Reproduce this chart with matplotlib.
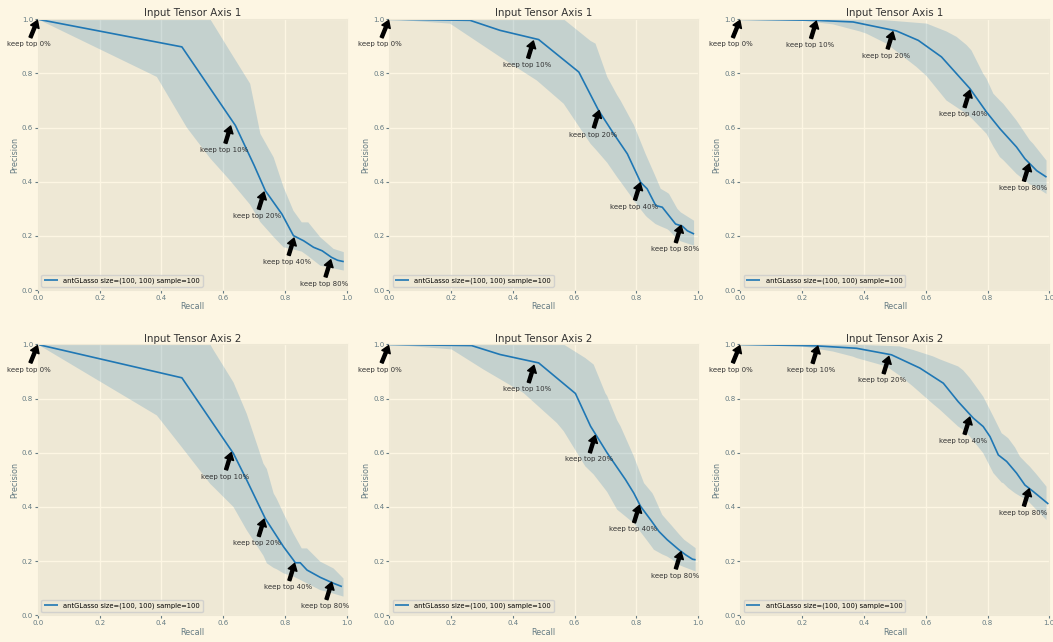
import matplotlib
matplotlib.use("Agg")
import matplotlib.pyplot as plt

plt.style.use("Solarize_Light2")

keep_labels = ["keep top 0%", "keep top 10%", "keep top 20%", "keep top 40%", "keep top 80%"]
legend_label = "antGLasso size=(100, 100) sample=100"
titles = ["Input Tensor Axis 1", "Input Tensor Axis 2"]

# ---- column 1, axis 1
a1_recall = [0, 0.466, 0.639, 0.70, 0.736, 0.79, 0.827, 0.86, 0.892, 0.92, 0.95, 0.97, 0.99]
a1_prec = [1.0, 0.898, 0.608, 0.46, 0.367, 0.28, 0.201, 0.182, 0.158, 0.145, 0.121, 0.11, 0.105]
a1_band_r = [0, 0.385, 0.482, 0.558, 0.62, 0.687, 0.72, 0.763, 0.795, 0.827, 0.854, 0.875, 0.914, 0.957, 0.99]
a1_upper = [1.0, 1.0, 1.0, 1.0, 0.885, 0.762, 0.577, 0.49, 0.38, 0.293, 0.25, 0.25, 0.195, 0.152, 0.14]
a1_lower = [1.0, 0.787, 0.60, 0.486, 0.407, 0.315, 0.251, 0.196, 0.158, 0.15, 0.142, 0.125, 0.09, 0.08, 0.072]
a1_keep_r = [0, 0.625, 0.733, 0.83, 0.949]
a1_keep_p = [1.0, 0.61, 0.366, 0.196, 0.116]

# ---- column 2, axis 1
b1_recall = [0, 0.262, 0.359, 0.484, 0.614, 0.678, 0.727, 0.771, 0.814, 0.835, 0.863, 0.884, 0.927, 0.949, 0.965, 0.987]
b1_prec = [1.0, 0.996, 0.959, 0.925, 0.805, 0.663, 0.577, 0.503, 0.398, 0.374, 0.312, 0.306, 0.244, 0.236, 0.219, 0.207]
b1_band_r = [0, 0.197, 0.359, 0.478, 0.565, 0.652, 0.668, 0.706, 0.738, 0.749, 0.787, 0.792, 0.83, 0.835, 0.862, 0.879, 0.9, 0.906, 0.933, 0.944, 0.987]
b1_upper = [1.0, 1.0, 1.0, 1.0, 1.0, 0.92, 0.91, 0.787, 0.72, 0.70, 0.62, 0.61, 0.503, 0.49, 0.42, 0.374, 0.36, 0.355, 0.30, 0.287, 0.256]
b1_lower = [1.0, 0.984, 0.861, 0.774, 0.688, 0.54, 0.52, 0.47, 0.417, 0.40, 0.34, 0.33, 0.275, 0.269, 0.244, 0.235, 0.225, 0.22, 0.188, 0.18, 0.164]
b1_keep_r = [0, 0.468, 0.681, 0.814, 0.946]
b1_keep_p = [1.0, 0.924, 0.667, 0.40, 0.243]

# ---- column 3, axis 1
c1_recall = [0, 0.246, 0.365, 0.505, 0.576, 0.651, 0.743, 0.797, 0.84, 0.894, 0.921, 0.959, 0.991]
c1_prec = [1.0, 0.996, 0.99, 0.957, 0.922, 0.861, 0.744, 0.657, 0.596, 0.528, 0.485, 0.441, 0.417]
c1_band_r = [0, 0.192, 0.30, 0.387, 0.408, 0.473, 0.57, 0.603, 0.667, 0.70, 0.732, 0.748, 0.786, 0.797, 0.819, 0.84, 0.851, 0.894, 0.937, 0.948, 0.991]
c1_upper = [1.0, 1.0, 1.0, 1.0, 0.999, 0.996, 0.987, 0.984, 0.955, 0.935, 0.905, 0.885, 0.799, 0.78, 0.725, 0.70, 0.688, 0.626, 0.553, 0.54, 0.478]
c1_lower = [1.0, 0.996, 0.981, 0.955, 0.947, 0.91, 0.824, 0.79, 0.70, 0.675, 0.651, 0.635, 0.59, 0.577, 0.53, 0.491, 0.48, 0.429, 0.39, 0.386, 0.355]
c1_keep_r = [0, 0.247, 0.495, 0.744, 0.936]
c1_keep_p = [1.0, 0.997, 0.958, 0.742, 0.47]

# ---- column 1, axis 2
a2_recall = [0, 0.466, 0.633, 0.676, 0.736, 0.795, 0.827, 0.833, 0.849, 0.871, 0.914, 0.957, 0.984]
a2_prec = [1.0, 0.877, 0.597, 0.499, 0.357, 0.253, 0.204, 0.194, 0.194, 0.167, 0.14, 0.118, 0.106]
a2_band_r = [0, 0.385, 0.482, 0.558, 0.568, 0.633, 0.676, 0.73, 0.741, 0.763, 0.773, 0.795, 0.827, 0.854, 0.871, 0.914, 0.957, 0.989]
a2_upper = [1.0, 1.0, 1.0, 1.0, 0.98, 0.86, 0.744, 0.56, 0.54, 0.45, 0.43, 0.376, 0.302, 0.247, 0.247, 0.198, 0.173, 0.136]
a2_lower = [1.0, 0.738, 0.597, 0.485, 0.474, 0.40, 0.314, 0.22, 0.192, 0.175, 0.17, 0.155, 0.143, 0.128, 0.118, 0.093, 0.08, 0.069]
a2_keep_r = [0, 0.627, 0.733, 0.832, 0.952]
a2_keep_p = [1.0, 0.605, 0.359, 0.196, 0.126]

# ---- column 2, axis 2
b2_recall = [0, 0.267, 0.359, 0.484, 0.603, 0.652, 0.706, 0.765, 0.792, 0.814, 0.846, 0.873, 0.90, 0.938, 0.96, 0.982, 0.992]
b2_prec = [1.0, 0.996, 0.963, 0.932, 0.819, 0.698, 0.599, 0.501, 0.451, 0.402, 0.353, 0.31, 0.279, 0.242, 0.223, 0.207, 0.205]
b2_band_r = [0, 0.202, 0.305, 0.435, 0.543, 0.565, 0.635, 0.662, 0.70, 0.706, 0.738, 0.749, 0.792, 0.825, 0.852, 0.857, 0.884, 0.90, 0.917, 0.938, 0.955, 0.992]
b2_upper = [1.0, 1.0, 1.0, 1.0, 1.0, 1.0, 0.95, 0.926, 0.82, 0.809, 0.72, 0.698, 0.587, 0.488, 0.451, 0.44, 0.371, 0.35, 0.328, 0.30, 0.279, 0.248]
b2_lower = [1.0, 0.982, 0.908, 0.821, 0.71, 0.68, 0.55, 0.52, 0.464, 0.455, 0.39, 0.38, 0.34, 0.291, 0.25, 0.242, 0.225, 0.217, 0.205, 0.186, 0.178, 0.162]
b2_keep_r = [0, 0.47, 0.668, 0.811, 0.946]
b2_keep_p = [1.0, 0.927, 0.668, 0.41, 0.239]

# ---- column 3, axis 2
c2_recall = [0, 0.246, 0.376, 0.489, 0.581, 0.657, 0.705, 0.754, 0.786, 0.808, 0.835, 0.862, 0.894, 0.921, 0.948, 0.997]
c2_prec = [1.0, 0.995, 0.986, 0.962, 0.913, 0.857, 0.789, 0.728, 0.697, 0.66, 0.592, 0.568, 0.525, 0.481, 0.457, 0.411]
c2_band_r = [0, 0.192, 0.30, 0.365, 0.376, 0.473, 0.516, 0.559, 0.624, 0.646, 0.705, 0.721, 0.743, 0.786, 0.819, 0.846, 0.851, 0.867, 0.889, 0.905, 0.927, 0.937, 0.959, 0.991]
c2_upper = [1.0, 1.0, 1.0, 1.0, 0.999, 0.995, 0.993, 0.98, 0.956, 0.945, 0.919, 0.905, 0.876, 0.808, 0.734, 0.672, 0.668, 0.654, 0.62, 0.586, 0.56, 0.549, 0.52, 0.475]
c2_lower = [1.0, 0.995, 0.974, 0.955, 0.95, 0.919, 0.885, 0.845, 0.78, 0.759, 0.697, 0.685, 0.66, 0.599, 0.525, 0.49, 0.488, 0.47, 0.451, 0.44, 0.426, 0.415, 0.389, 0.352]
c2_keep_r = [0, 0.252, 0.482, 0.744, 0.936]
c2_keep_p = [1.0, 0.998, 0.96, 0.736, 0.471]

panels = [
    [(a1_recall, a1_prec, a1_band_r, a1_upper, a1_lower, a1_keep_r, a1_keep_p),
     (b1_recall, b1_prec, b1_band_r, b1_upper, b1_lower, b1_keep_r, b1_keep_p),
     (c1_recall, c1_prec, c1_band_r, c1_upper, c1_lower, c1_keep_r, c1_keep_p)],
    [(a2_recall, a2_prec, a2_band_r, a2_upper, a2_lower, a2_keep_r, a2_keep_p),
     (b2_recall, b2_prec, b2_band_r, b2_upper, b2_lower, b2_keep_r, b2_keep_p),
     (c2_recall, c2_prec, c2_band_r, c2_upper, c2_lower, c2_keep_r, c2_keep_p)],
]

fig, axes = plt.subplots(2, 3, figsize=(10.53, 6.42), dpi=100)
fig.subplots_adjust(left=0.036, right=0.9965, top=0.970, bottom=0.0416,
                    wspace=0.1367, hspace=0.201)

for row in range(2):
    for col in range(3):
        ax = axes[row, col]
        rec, prec, band_r, upper, lower, keep_r, keep_p = panels[row][col]
        ax.plot(rec, prec, lw=1.2, color="#1f77b4", label=legend_label)
        ax.fill_between(band_r, lower, upper, facecolor="#1f77b4", alpha=0.2,
                        linewidth=0)
        for lab, kx, ky in zip(keep_labels, keep_r, keep_p):
            ax.annotate(lab, xy=(kx, ky), xytext=(kx - 0.1, ky - 0.1),
                        fontsize=5, color="#333333",
                        arrowprops=dict(facecolor="black", edgecolor="black",
                                        shrink=0.05, width=2.2, headwidth=6.5,
                                        headlength=5))
        ax.set_xlim(0, 1)
        ax.set_ylim(0, 1)
        ax.set_xticks([0, 0.2, 0.4, 0.6, 0.8, 1.0])
        ax.set_yticks([0, 0.2, 0.4, 0.6, 0.8, 1.0])
        ax.tick_params(labelsize=5, length=2, pad=1.5)
        ax.set_xlabel("Recall", fontsize=5.8, labelpad=1)
        ax.set_ylabel("Precision", fontsize=5.8, labelpad=2)
        ax.set_title(titles[row], fontsize=7.4, color="#333333", pad=2)
        ax.legend(loc="lower left", fontsize=4.9, handlelength=2)

fig.savefig("out.png", dpi=100)
